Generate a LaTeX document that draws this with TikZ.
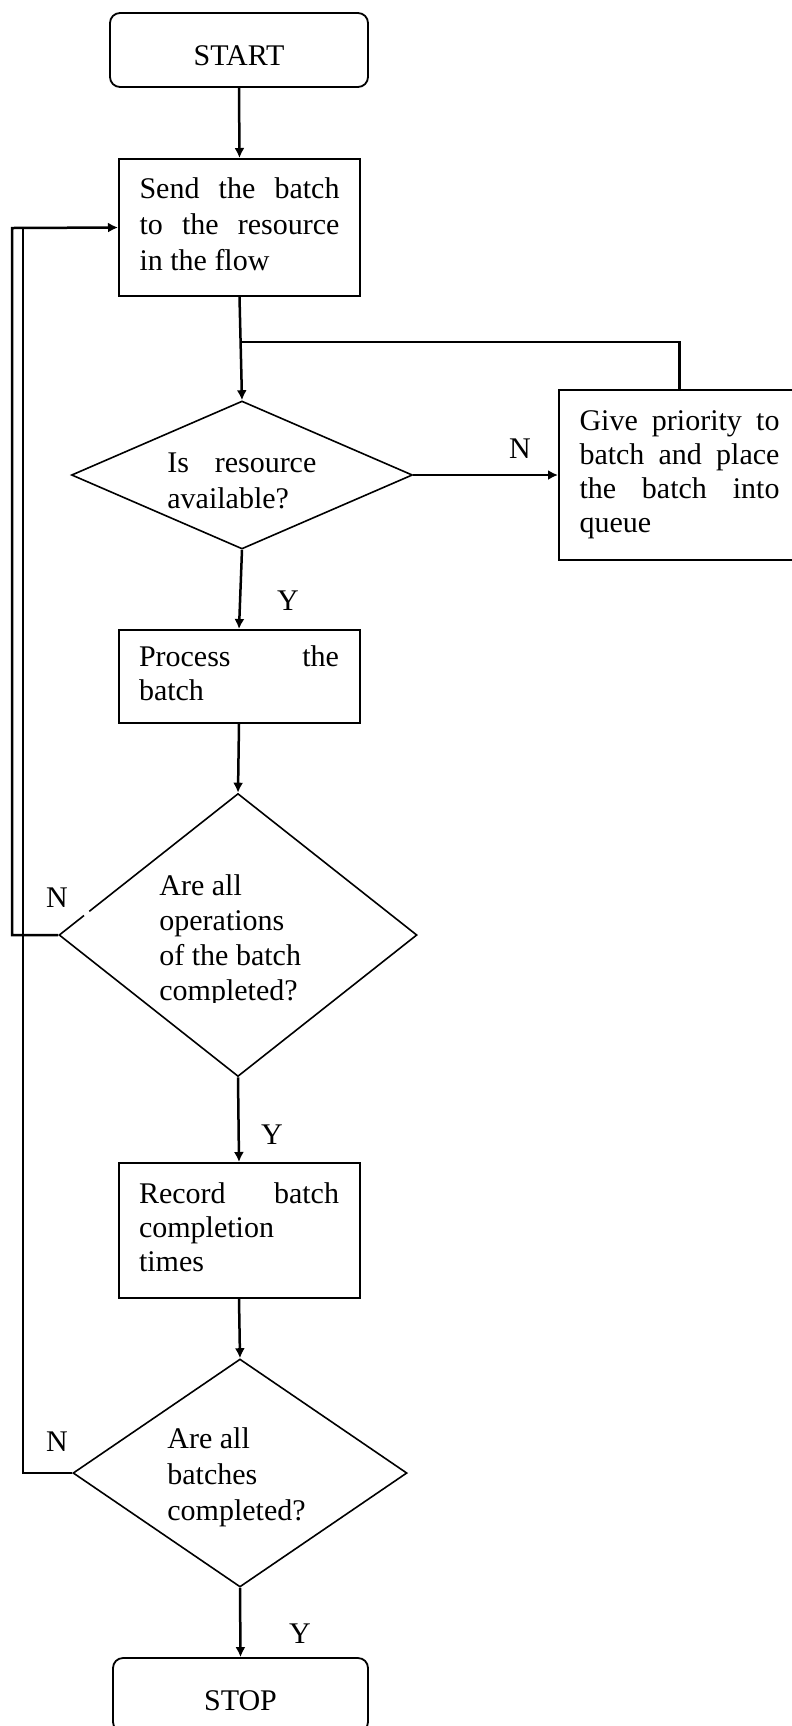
\documentclass[tikz,border=0pt]{standalone}
\usepackage{fontspec}
\setmainfont{Liberation Serif}
\usetikzlibrary{shapes.geometric,arrows.meta}
\newcommand\jtxt[2][100pt]{\makebox[#1][s]{#2}}
\newcommand\ltxt[2][100pt]{\makebox[#1][l]{#2}}
\begin{document}
\begin{tikzpicture}[x=0.5pt,y=-0.5pt,
  txt/.style={font=\fontsize{15pt}{17pt}\selectfont, inner sep=0pt},
  procbox/.style={draw, line width=1pt, rectangle, minimum width=120.5pt, inner sep=0pt, txt},
  term/.style={draw, line width=0.9pt, rounded corners=5pt, minimum width=129pt, minimum height=37pt, inner sep=0pt, txt, text height=15pt, text depth=0pt},
  dec/.style={draw, line width=0.8pt, diamond, inner sep=0pt},
  conn/.style={line width=1.25pt},
  arr/.style={conn, -{Latex[length=5pt,width=5pt]}},
  lbl/.style={txt, anchor=base}
]
\useasboundingbox (0,0) rectangle (792,1726);
\clip (0,0) rectangle (792,1726);

% terminals and process boxes
\node[term] (start) at (239,50) {START};
\node[procbox, minimum height=68.5pt, font=\fontsize{15pt}{18pt}\selectfont] (send) at (239.5,227.5)
  {\begin{tabular}{@{}l@{}}\jtxt{Send the batch}\\ \jtxt{to the resource}\\ \ltxt{in the flow}\end{tabular}};
\node[procbox, minimum height=85pt] (give) at (679.5,475)
  {\begin{tabular}{@{}l@{}}\jtxt{Give priority to}\\ \jtxt{batch and place}\\ \jtxt{the batch into}\\ \ltxt{queue}\end{tabular}};
\node[procbox, minimum height=46.5pt] (proc) at (239,676.5)
  {\begin{tabular}{@{}l@{}}\jtxt{Process the}\\ \ltxt{batch}\end{tabular}};
\node[procbox, minimum height=67.5pt] (rec) at (239,1230.5)
  {\begin{tabular}{@{}l@{}}\jtxt{Record batch}\\ \ltxt{completion}\\ \ltxt{times}\end{tabular}};
\node[term, minimum width=127.5pt] (stop) at (240.5,1695) {STOP};

% decisions
\node[dec, minimum width=170.5pt, minimum height=74pt] (d1) at (242,475) {};
\node[dec, minimum width=179pt, minimum height=141.5pt] (d2) at (238,935) {};
\node[dec, minimum width=167pt, minimum height=114pt] (d3) at (240,1473) {};

\node[txt, anchor=base west, font=\fontsize{15pt}{18pt}\selectfont] (d1t) at (167,472)
  {\begin{tabular}[t]{@{}l@{}}\jtxt[74.5pt]{Is resource}\\ available?\end{tabular}};
\begin{scope}
  \clip (100,850) rectangle (400,1002);
  \node[txt, anchor=base west, font=\fontsize{15pt}{17.5pt}\selectfont] (d2t) at (159,895)
    {\begin{tabular}[t]{@{}l@{}}Are all\\ operations\\ of the batch\\ completed?\end{tabular}};
\end{scope}
\node[txt, anchor=base west, font=\fontsize{15pt}{18pt}\selectfont] (d3t) at (167,1448)
  {\begin{tabular}[t]{@{}l@{}}Are all\\ batches\\ completed?\end{tabular}};

% small break in the edge of d2
\draw[white, line width=2pt] (84,915.2) -- (89,911.2);

% connectors
\coordinate (j) at (241,342);
\coordinate (lo) at (12,228);
\coordinate (li) at (23,228);
\draw[arr] (start.south) -- (send.north);
\draw[arr] (send.south) -- (d1.north);
\draw[conn] (give.north) |- (j);
\draw[arr] (d1.east) -- (give.west);
\draw[arr] (d1.south) -- (proc.north);
\draw[arr] (proc.south) -- (d2.north);
\draw[arr] (d2.south) -- (rec.north);
\draw[arr] (rec.south) -- (d3.north);
\draw[arr] (d3.south) -- (stop.north);
\draw[arr] (d2.west) -| (lo) -- (send.west);
\draw[conn] (d3.west) -| (li);

% labels
\node[lbl] (n1) at (520,458) {N};
\node[lbl] (y1) at (288,610) {Y};
\node[lbl] (n2) at (57,907) {N};
\node[lbl] (y2) at (272,1144) {Y};
\node[lbl] (n3) at (57,1451) {N};
\node[lbl] (y3) at (300,1643) {Y};
\end{tikzpicture}
\end{document}
